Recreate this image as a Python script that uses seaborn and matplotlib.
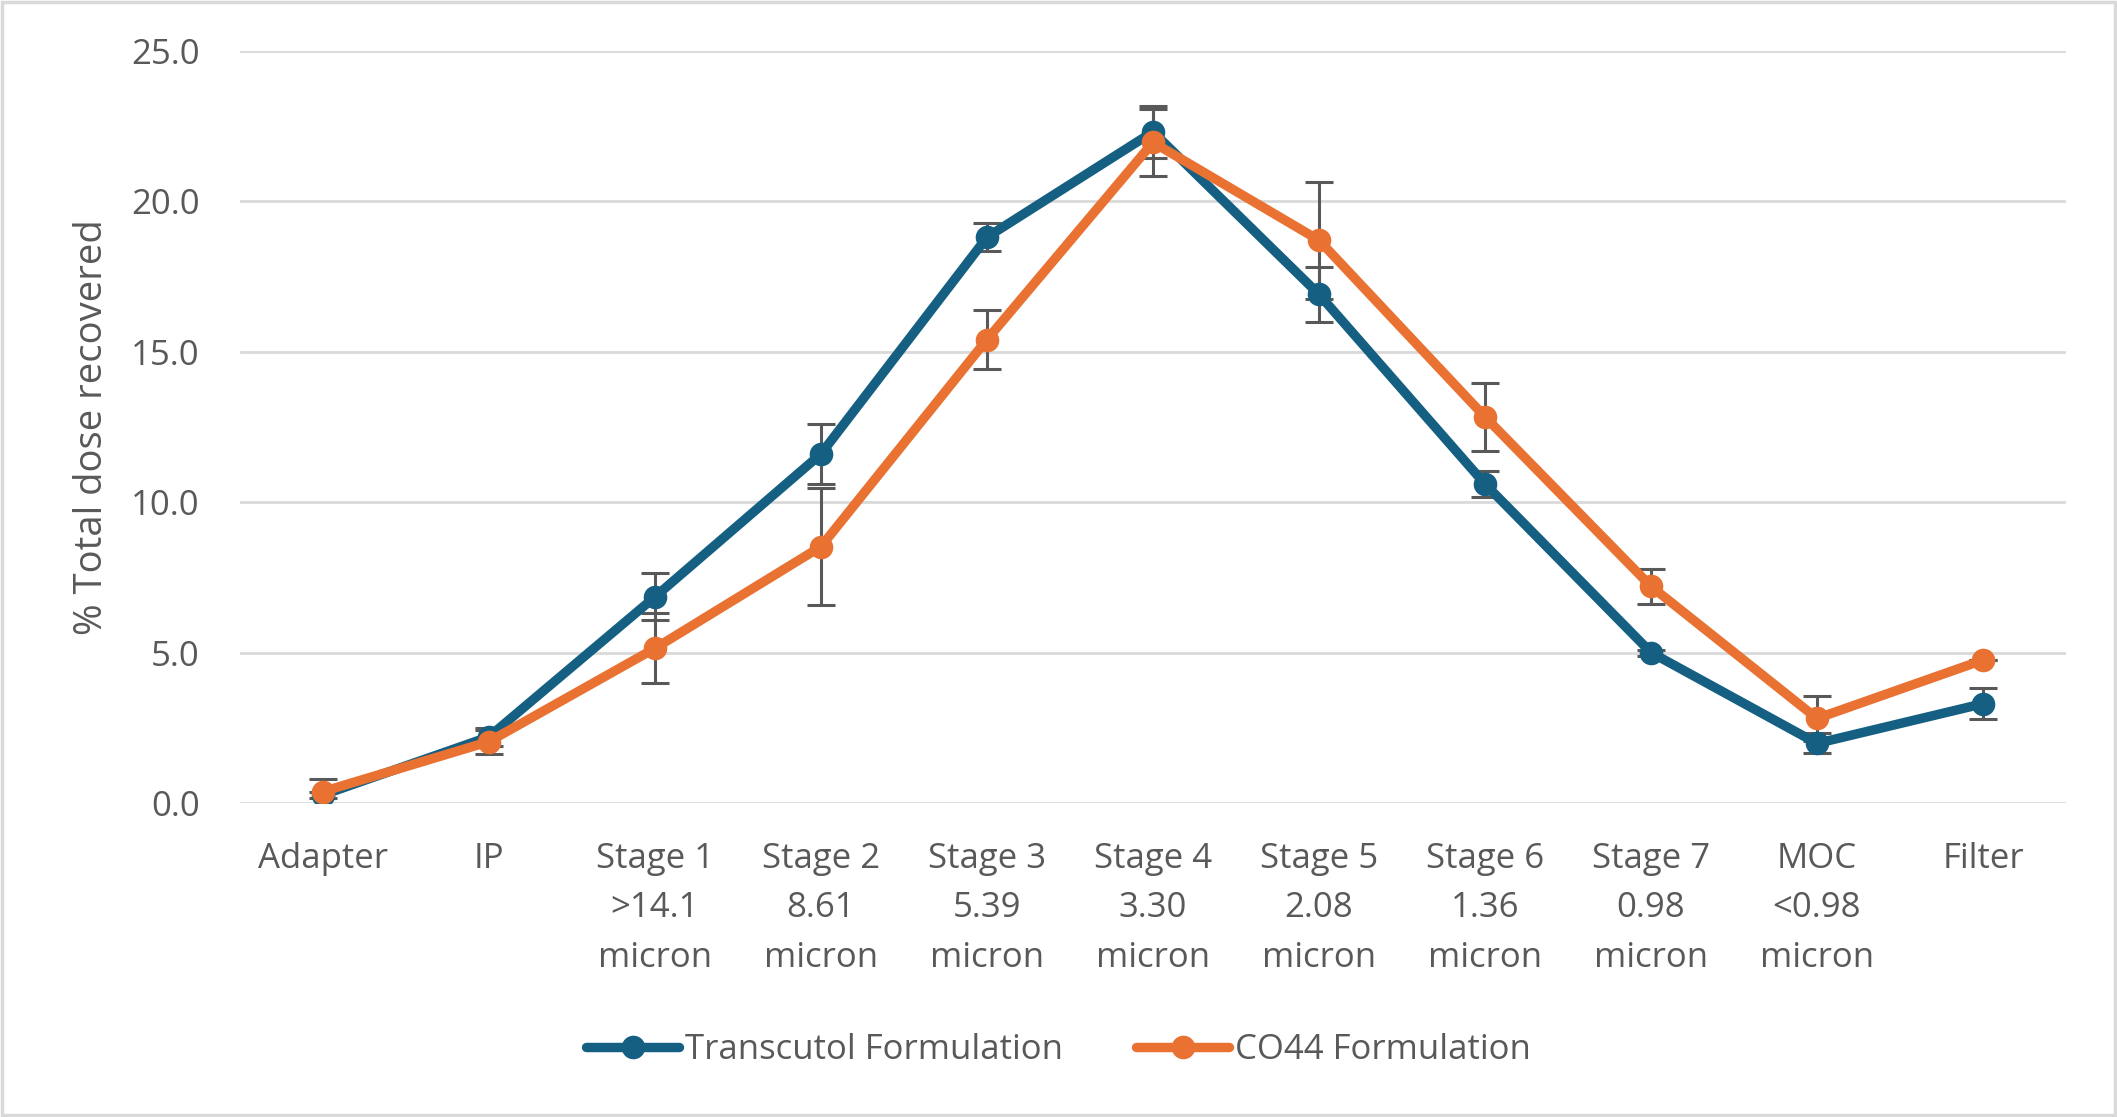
import matplotlib
matplotlib.use("Agg")
import matplotlib.pyplot as plt
import seaborn as sns
import pandas as pd
import numpy as np
from matplotlib.patches import Rectangle

categories = ["Adapter", "IP", "Stage 1\n>14.1\nmicron", "Stage 2\n8.61\nmicron",
              "Stage 3\n5.39\nmicron", "Stage 4\n3.30\nmicron", "Stage 5\n2.08\nmicron",
              "Stage 6\n1.36\nmicron", "Stage 7\n0.98\nmicron", "MOC\n<0.98\nmicron", "Filter"]
transcutol = [0.27, 2.2, 6.85, 11.6, 18.8, 22.3, 16.9, 10.6, 5.0, 1.98, 3.3]
transcutol_err = [0.1, 0.3, 0.78, 0.99, 0.46, 0.86, 0.92, 0.42, 0.1, 0.33, 0.51]
co44 = [0.38, 2.04, 5.14, 8.52, 15.4, 21.95, 18.7, 12.83, 7.2, 2.81, 4.75]
co44_err = [0.43, 0.4, 1.16, 1.93, 0.97, 1.11, 1.94, 1.13, 0.58, 0.75, 0.0]
series_names = ["Transcutol Formulation", "CO44 Formulation"]
yticks = [0, 5, 10, 15, 20, 25]

colors = {"Transcutol Formulation": "#156082", "CO44 Formulation": "#E97132"}
text_color = "#595959"
font = ["Open Sans", "DejaVu Sans"]

sns.set_theme(style="white")
plt.rcParams["font.family"] = font

pos = list(range(len(categories)))
df = pd.DataFrame({
    "pos": pos * 2,
    "value": transcutol + co44,
    "err": transcutol_err + co44_err,
    "series": [series_names[0]] * len(pos) + [series_names[1]] * len(pos),
})

fig = plt.figure(figsize=(21.17, 11.17), dpi=100)
ax = fig.add_axes([240 / 2117, 1 - 803 / 1117, 1826 / 2117, (803 - 50.6) / 1117])

# error bars
for name in series_names:
    sub = df[df["series"] == name]
    ax.errorbar(sub["pos"], sub["value"], yerr=sub["err"], fmt="none",
                ecolor=text_color, elinewidth=2.2, capsize=10, capthick=2.2, zorder=1.5)

sns.lineplot(data=df, x="pos", y="value", hue="series", hue_order=series_names,
             palette=colors, marker="o", markersize=17, linewidth=6.8,
             markeredgewidth=0, ax=ax, zorder=3, legend=True)

ax.set_xlim(-0.5, len(categories) - 0.5)
ax.set_ylim(0, 25)
ax.set_yticks(yticks)
ax.set_yticklabels([f"{v:.1f}" for v in yticks])
ax.set_xticks(pos)
ax.set_xticklabels(categories, linespacing=1.6)
ax.tick_params(axis="both", length=0, labelsize=25, labelcolor=text_color)
ax.tick_params(axis="y", pad=29)
ax.tick_params(axis="x", pad=28)
ax.set_xlabel("")
ax.set_ylabel("")
ax.grid(axis="y", color="#d9d9d9", linewidth=2)
ax.set_axisbelow(True)
for s in ax.spines.values():
    s.set_visible(False)

fig.text(92 / 2117, 1 - 427 / 1117, "% Total dose recovered", rotation=90,
         ha="center", va="center", fontsize=27.5, color=text_color)

handles, labels = ax.get_legend_handles_labels()
ax.legend_.remove()
leg = fig.legend(handles, labels, loc="center", bbox_to_anchor=(0.5, 1 - 1050 / 1117),
                 ncol=2, frameon=False, fontsize=25, handlelength=2.68,
                 handletextpad=0.17, columnspacing=2.1)
for t in leg.get_texts():
    t.set_color(text_color)

fig.patches.append(Rectangle((0.001, 0.002), 0.998, 0.996, transform=fig.transFigure,
                             fill=False, edgecolor="#d9d9d9", linewidth=2.5))

fig.savefig("out.png", dpi=100, facecolor="white")
